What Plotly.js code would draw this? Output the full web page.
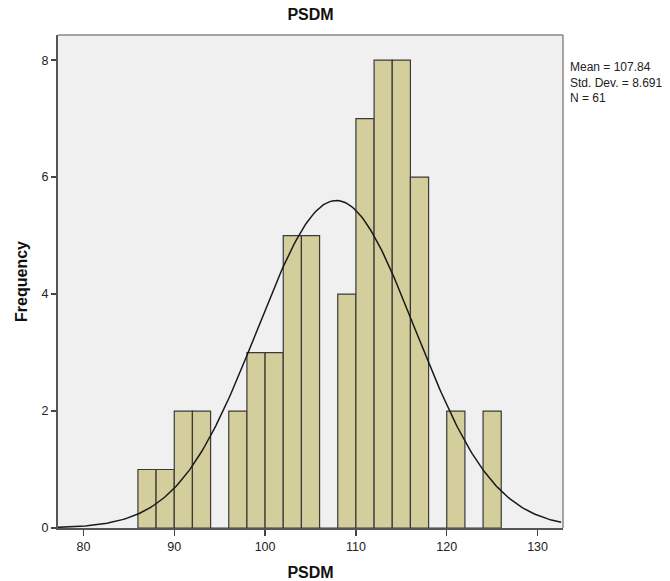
<!DOCTYPE html>
<html>
<head>
<meta charset="utf-8">
<script src="https://cdn.plot.ly/plotly-3.0.1.min.js"></script>
<style>html,body{margin:0;padding:0;background:#fff;}#chart{width:670px;height:581px;}</style>
</head>
<body>
<div id="chart"></div>
<script>
// Histogram bins (left edges, width 2) and counts
const binStarts = [86, 88, 90, 92, 94, 96, 98, 100, 102, 104, 106, 108, 110, 112, 114, 116, 118, 120, 122, 124];
const counts    = [ 1,  1,  2,  2,  0,  2,  3,   3,   5,   5,   0,   4,   7,   8,   8,   6,   0,   2,   0,   2];
const binWidth = 2;
const meanVal = 107.84;
const sdVal = 8.691;
const nVal = 61;
const xTicks = [80, 90, 100, 110, 120, 130];
const yTicks = [0, 2, 4, 6, 8];
const statLines = ['Mean = ' + meanVal, 'Std. Dev. = ' + sdVal, 'N = ' + nVal];

// Fitted normal curve defined by the displayed statistics
const curveX = [];
const curveY = [];
for (let x = 77.2; x <= 132.8; x += 0.2) {
  curveX.push(x);
  const z = (x - meanVal) / sdVal;
  curveY.push(nVal * binWidth * Math.exp(-0.5 * z * z) / (sdVal * Math.sqrt(2 * Math.PI)));
}

const bars = {
  type: 'bar',
  x: binStarts.map(b => b + binWidth / 2),
  y: counts,
  width: binWidth,
  marker: {color: '#d3ce9b', line: {color: '#3a3a3a', width: 1.2}},
  hoverinfo: 'x+y'
};
const curve = {
  type: 'scatter',
  mode: 'lines',
  x: curveX,
  y: curveY,
  line: {color: '#1a1a1a', width: 1.5},
  hoverinfo: 'skip'
};

const font = 'Liberation Sans, Arial, sans-serif';
const plotH = 581 - 35 - 53;
const layout = {
  width: 670,
  height: 581,
  margin: {l: 58, r: 107, t: 35, b: 53},
  paper_bgcolor: '#ffffff',
  plot_bgcolor: '#f0f0f0',
  showlegend: false,
  bargap: 0,
  title: {text: '<b>PSDM</b>', font: {family: font, size: 16, color: '#111'}, x: 0.5, xref: 'paper', y: 0.975, yanchor: 'middle'},
  xaxis: {
    range: [77.2, 132.8],
    tickvals: xTicks,
    ticks: 'outside',
    ticklen: 6,
    tickwidth: 1.5,
    tickcolor: '#444',
    showgrid: false,
    zeroline: false,
    showline: true,
    linecolor: '#555',
    linewidth: 2,
    mirror: false,
    tickfont: {family: font, size: 12.5, color: '#222'},
    title: {text: '<b>PSDM</b>', font: {family: font, size: 16, color: '#111'}, standoff: 14}
  },
  yaxis: {
    range: [0, 8.43],
    tickvals: yTicks,
    ticks: 'outside',
    ticklen: 5,
    tickwidth: 1.5,
    tickcolor: '#444',
    showgrid: false,
    zeroline: false,
    showline: true,
    linecolor: '#555',
    linewidth: 2,
    tickfont: {family: font, size: 12.5, color: '#222'},
    title: {text: '<b>Frequency</b>', font: {family: font, size: 16, color: '#111'}, standoff: 10}
  },
  shapes: [
    {type: 'line', xref: 'paper', yref: 'paper', x0: 0, x1: 1, y0: 1, y1: 1, line: {color: '#888', width: 1.5}},
    {type: 'line', xref: 'paper', yref: 'paper', x0: 1, x1: 1, y0: 0, y1: 1, line: {color: '#888', width: 1.5}}
  ],
  annotations: [{
    xref: 'paper', yref: 'paper', x: 1.012, y: 1 - 24 / plotH,
    xanchor: 'left', yanchor: 'top', align: 'left', showarrow: false, borderpad: 0,
    text: statLines.join('<br>'), font: {family: font, size: 12, color: '#222'}
  }]
};

Plotly.newPlot('chart', [bars, curve], layout, {displayModeBar: false, staticPlot: true});
</script>
</body>
</html>
